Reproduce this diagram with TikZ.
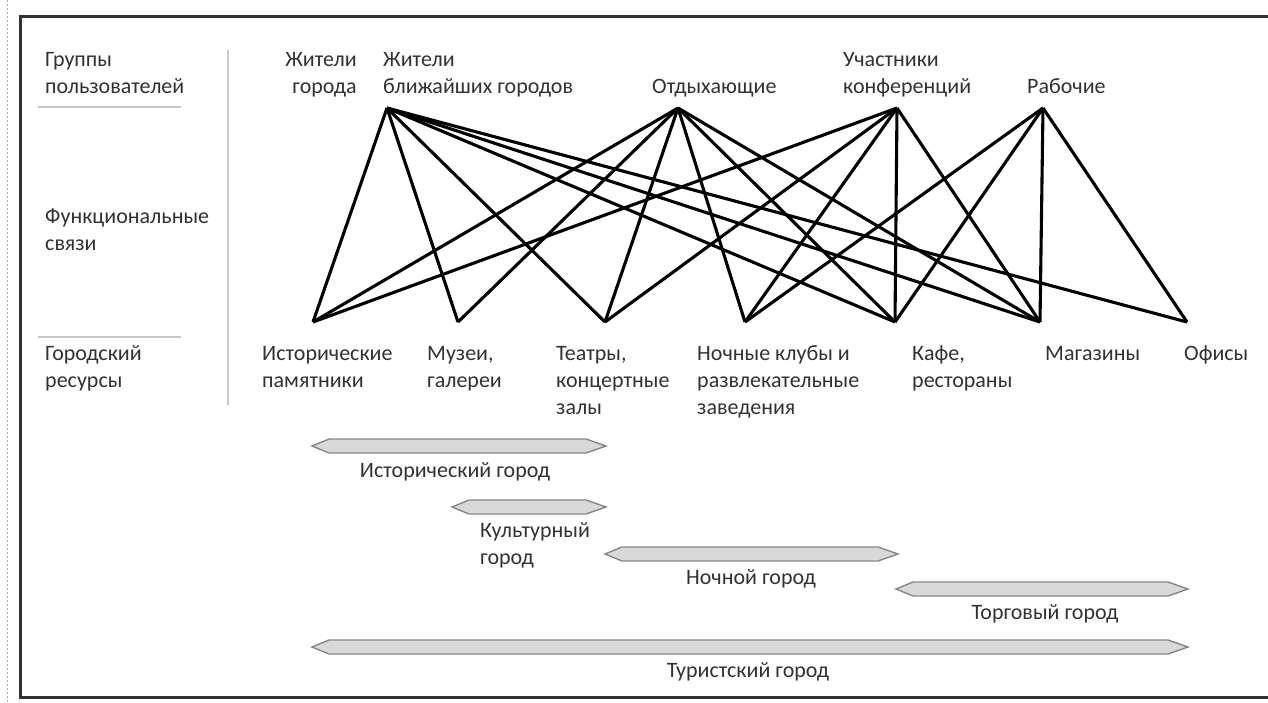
\documentclass[tikz,border=0pt]{standalone}
\usepackage{fontspec}
\setmainfont{Carlito}
\definecolor{txt}{RGB}{50,50,50}
\definecolor{barfill}{RGB}{217,217,217}
\definecolor{barline}{RGB}{135,135,135}
\definecolor{sepline}{RGB}{200,200,200}
\definecolor{framecol}{RGB}{50,50,50}
\newcommand\citybar[3]{%
  \draw[cbar] (#1,#3) -- (#1+17,#3-7) -- (#2-20,#3-7) -- (#2,#3) -- (#2-20,#3+7) -- (#1+17,#3+7) -- cycle;}
\begin{document}
\begin{tikzpicture}[x=1pt,y=-1pt,
  lbl/.style={font=\fontsize{22}{27}\selectfont, text=txt, inner sep=0pt, align=left},
  lblr/.style={lbl, align=right},
  lblc/.style={lbl, align=center},
  link/.style={line width=3.1pt, black, line join=miter},
  cbar/.style={fill=barfill, draw=barline, line width=1.4pt, line join=miter},
  sep/.style={draw=sepline, line width=2pt}]
\useasboundingbox (0,0) rectangle (1268,702);
\fill[white] (0,0) rectangle (1268,702);
% page edge and frame
\draw[gray!70, line width=0.8pt, dash pattern=on 2pt off 2pt] (7,0) -- (7,702);
\draw[framecol, line width=3pt] (1270,16) -- (20,16) -- (20,697) -- (1270,697);
% left column (anchor = baseline of last line)
\node[lbl, anchor=base west] (grp) at (45,93) {Группы\\пользователей};
\node[lbl, anchor=base west] (fun) at (45,250) {Функциональные\\связи};
\node[lbl, anchor=base west] (res) at (45,387) {Городский\\ресурсы};
\draw[sep] (38,107) -- (181,107);
\draw[sep] (38,337) -- (181,337);
\draw[sep] (228,50) -- (228,405);
% group labels
\node[lblr, anchor=base east] (g0) at (357,93) {Жители\\города};
\node[lbl, anchor=base west] (g1) at (383,93) {Жители\\ближайших городов};
\node[lbl, anchor=base west] (g2) at (652,93) {Отдыхающие};
\node[lbl, anchor=base west] (g3) at (843,93) {Участники\\конференций};
\node[lbl, anchor=base west] (g4) at (1027,93) {Рабочие};
% resource labels
\node[lbl, anchor=base west] (r1) at (262,387) {Исторические\\памятники};
\node[lbl, anchor=base west] (r2) at (427,387) {Музеи,\\галереи};
\node[lbl, anchor=base west] (r3) at (556,414) {Театры,\\концертные\\залы};
\node[lbl, anchor=base west] (r4) at (697,414) {Ночные клубы и\\развлекательные\\заведения};
\node[lbl, anchor=base west] (r5) at (912,387) {Кафе,\\рестораны};
\node[lbl, anchor=base west] (r6) at (1045,360) {Магазины};
\node[lbl, anchor=base west] (r7) at (1184,360) {Офисы};
% points
\coordinate (A) at (387,108);
\coordinate (B) at (678,108);
\coordinate (C) at (897,108);
\coordinate (D) at (1043,108);
\coordinate (H1) at (313,322);
\coordinate (H2) at (458,322);
\coordinate (H3) at (605,322);
\coordinate (H4) at (745,322);
\coordinate (H5) at (895,322);
\coordinate (H6) at (1040,322);
\coordinate (H7) at (1187,322);
% links
\foreach \t in {H1,H2,H3,H5,H6,H7} \draw[link] (A) -- (\t);
\foreach \t in {H1,H2,H3,H4,H5,H6} \draw[link] (B) -- (\t);
\foreach \t in {H1,H3,H4,H5,H6} \draw[link] (C) -- (\t);
\foreach \t in {H4,H5,H6,H7} \draw[link] (D) -- (\t);
% bars
\citybar{312}{606}{446}
\citybar{452}{606}{507}
\citybar{605}{898}{554}
\citybar{896}{1188}{589}
\citybar{312}{1188}{647}
% bar labels
\node[lblc, anchor=base] (b1) at (455,477) {Исторический город};
\node[lbl, anchor=base west] (b2) at (480,564) {Культурный\\город};
\node[lblc, anchor=base] (b3) at (751,584) {Ночной город};
\node[lblc, anchor=base] (b4) at (1045,619) {Торговый город};
\node[lblc, anchor=base] (b5) at (748,677) {Туристский город};
\end{tikzpicture}
\end{document}
